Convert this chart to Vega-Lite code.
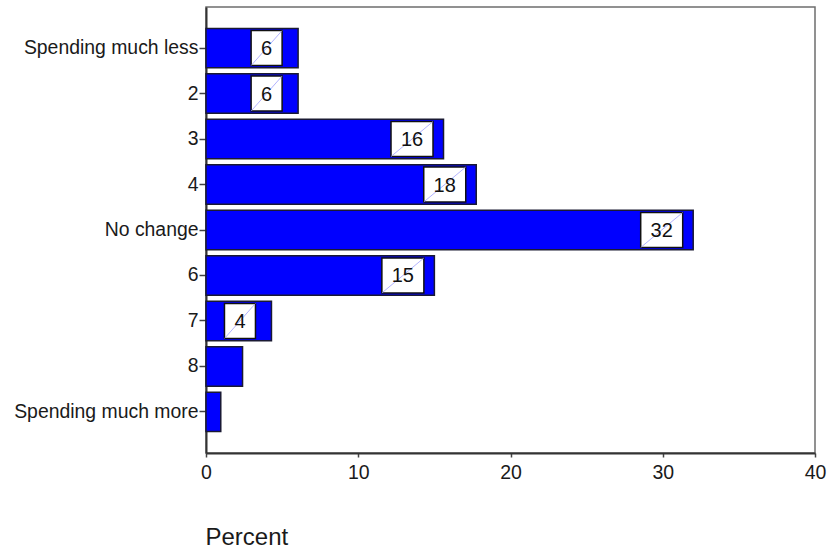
{
  "$schema": "https://vega.github.io/schema/vega-lite/v6.json",
  "width": 609,
  "height": 446,
  "autosize": "none",
  "padding": {"left": 206, "top": 7, "right": 13, "bottom": 95},
  "background": "white",
  "config": {
    "font": "Liberation Sans",
    "view": {"stroke": "#6e6e6e", "strokeWidth": 1.5},
    "axis": {"grid": false}
  },
  "data": {
    "values": [
      {"category": "Spending much less", "percent": 6.05, "label": "6"},
      {"category": "2", "percent": 6.05, "label": "6"},
      {"category": "3", "percent": 15.6, "label": "16"},
      {"category": "4", "percent": 17.75, "label": "18"},
      {"category": "No change", "percent": 32.0, "label": "32"},
      {"category": "6", "percent": 15.0, "label": "15"},
      {"category": "7", "percent": 4.3, "label": "4"},
      {"category": "8", "percent": 2.4, "label": ""},
      {"category": "Spending much more", "percent": 0.97, "label": ""}
    ]
  },
  "encoding": {
    "y": {
      "field": "category",
      "type": "nominal",
      "sort": null,
      "scale": {"paddingInner": 0.135, "paddingOuter": 0.47},
      "axis": {
        "title": null,
        "labelFontSize": 19.4,
        "labelColor": "#1a1a1a",
        "labelPadding": 1,
        "labelLimit": 300,
        "tickSize": 7,
        "tickColor": "#444",
        "tickWidth": 1.5,
        "domainColor": "#333",
        "domainWidth": 2
      }
    }
  },
  "layer": [
    {
      "mark": {"type": "bar", "fill": "#0000ff", "stroke": "#1a1a33", "strokeWidth": 1.5},
      "encoding": {
        "x": {
          "field": "percent",
          "type": "quantitative",
          "scale": {"domain": [0, 40], "nice": false, "zero": true},
          "axis": {
            "values": [0, 10, 20, 30, 40],
            "title": "Percent",
            "titleFontSize": 24,
            "titleFontWeight": "normal",
            "titleColor": "#1a1a1a",
            "titleAnchor": "start",
            "titleAlign": "left",
            "titleX": -1,
            "titleY": 91,
            "titleBaseline": "alphabetic",
            "labelFontSize": 19.5,
            "labelColor": "#1a1a1a",
            "labelBaseline": "alphabetic",
            "labelPadding": 21,
            "labelFlush": false,
            "tickSize": 4,
            "tickColor": "#444",
            "tickWidth": 1.5,
            "domainColor": "#333",
            "domainWidth": 2
          }
        }
      }
    },
    {
      "transform": [{"filter": "length(datum.label) == 1"}],
      "mark": {"type": "point", "shape": "M-1,-1.13H1V1.13H-1Z", "size": 961, "filled": true, "fill": "white", "stroke": "#111", "strokeWidth": 1.5, "opacity": 1, "xOffset": -31.5},
      "encoding": {"x": {"field": "percent", "type": "quantitative"}}
    },
    {
      "transform": [{"filter": "length(datum.label) == 2"}],
      "mark": {"type": "point", "shape": "M-1,-0.833H1V0.833H-1Z", "size": 1764, "filled": true, "fill": "white", "stroke": "#111", "strokeWidth": 1.5, "opacity": 1, "xOffset": -31.5},
      "encoding": {"x": {"field": "percent", "type": "quantitative"}}
    },
    {
      "transform": [{"filter": "length(datum.label) == 1"}],
      "mark": {"type": "point", "shape": "M-1,1.13L1,-1.13", "size": 961, "filled": false, "stroke": "#a0a0ff", "strokeWidth": 0.8, "opacity": 1, "xOffset": -31.5},
      "encoding": {"x": {"field": "percent", "type": "quantitative"}}
    },
    {
      "transform": [{"filter": "length(datum.label) == 2"}],
      "mark": {"type": "point", "shape": "M-1,0.833L1,-0.833", "size": 1764, "filled": false, "stroke": "#a0a0ff", "strokeWidth": 0.8, "opacity": 1, "xOffset": -31.5},
      "encoding": {"x": {"field": "percent", "type": "quantitative"}}
    },
    {
      "transform": [{"filter": "length(datum.label) > 0"}],
      "mark": {"type": "text", "fontSize": 20, "color": "#111", "align": "center", "baseline": "middle", "xOffset": -31.5, "dy": 1},
      "encoding": {
        "x": {"field": "percent", "type": "quantitative"},
        "text": {"field": "label", "type": "nominal"}
      }
    }
  ]
}
